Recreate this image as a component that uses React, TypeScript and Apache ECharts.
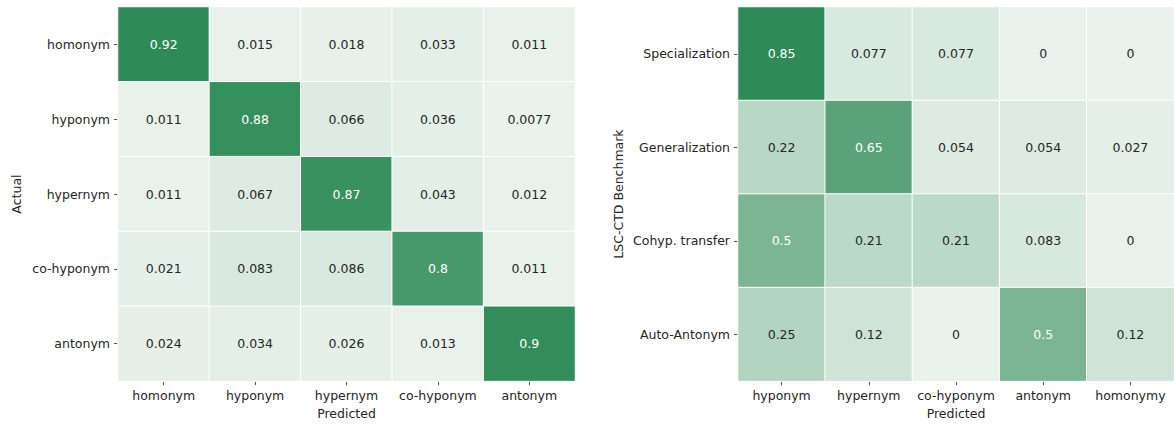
import React, { useEffect, useRef } from "react";
import * as echarts from "echarts";

const leftCats = ["homonym", "hyponym", "hypernym", "co-hyponym", "antonym"];
const leftValues = [
  [0.92, 0.015, 0.018, 0.033, 0.011],
  [0.011, 0.88, 0.066, 0.036, 0.0077],
  [0.011, 0.067, 0.87, 0.043, 0.012],
  [0.021, 0.083, 0.086, 0.8, 0.011],
  [0.024, 0.034, 0.026, 0.013, 0.9],
];

const rightXCats = ["hyponym", "hypernym", "co-hyponym", "antonym", "homonymy"];
const rightYCats = ["Specialization", "Generalization", "Cohyp. transfer", "Auto-Antonym"];
const rightValues = [
  [0.85, 0.077, 0.077, 0, 0],
  [0.22, 0.65, 0.054, 0.054, 0.027],
  [0.5, 0.21, 0.21, 0.083, 0],
  [0.25, 0.12, 0, 0.5, 0.12],
];

const FONT = "DejaVu Sans";
const TXT = "#262626";
const LIGHT = "#e9f2ec";
const DARK = "#2e8b57";

function buildData(values: number[][]) {
  const flat = values.flat();
  const mn = Math.min(...flat);
  const mx = Math.max(...flat);
  const data: any[] = [];
  values.forEach((row, yi) =>
    row.forEach((v, xi) => {
      const t = (v - mn) / (mx - mn);
      data.push({ value: [xi, yi, v], label: { color: t > 0.5 ? "#ffffff" : TXT } });
    })
  );
  return { data, mn, mx };
}

function xAxis(cats: string[], gridIndex: number) {
  return {
    type: "category",
    data: cats,
    gridIndex,
    name: "Predicted",
    nameLocation: "middle",
    nameGap: 24,
    nameTextStyle: { color: TXT, fontFamily: FONT, fontSize: 12.5 },
    axisLine: { show: false },
    axisTick: { show: true, alignWithLabel: true, interval: 0, length: 4, lineStyle: { color: TXT, width: 0.8 } },
    axisLabel: { color: TXT, fontFamily: FONT, fontSize: 12.5, margin: 8, interval: 0 },
    splitLine: { show: false },
  };
}

function yAxis(cats: string[], gridIndex: number, name: string, gap: number) {
  return {
    type: "category",
    data: cats,
    gridIndex,
    inverse: true,
    name,
    nameLocation: "middle",
    nameGap: gap,
    nameTextStyle: { color: TXT, fontFamily: FONT, fontSize: 12.5 },
    axisLine: { show: false },
    axisTick: { show: true, alignWithLabel: true, interval: 0, length: 4, lineStyle: { color: TXT, width: 0.8 } },
    axisLabel: { color: TXT, fontFamily: FONT, fontSize: 12.5, margin: 8, interval: 0 },
    splitLine: { show: false },
  };
}

export default function App() {
  const ref = useRef<HTMLDivElement>(null);
  useEffect(() => {
    if (!ref.current) return;
    const chart = echarts.init(ref.current, null, { renderer: "svg" });
    const L = buildData(leftValues);
    const R = buildData(rightValues);
    const labelCommon = {
      show: true,
      fontFamily: FONT,
      fontSize: 12.5,
      formatter: (p: any) => String(p.value[2]),
    };
    chart.setOption({
      animation: false,
      grid: [
        { left: 118, top: 7, width: 457, height: 380 },
        { left: 738, top: 7, width: 436, height: 378 },
      ],
      xAxis: [xAxis(leftCats, 0), xAxis(rightXCats, 1)],
      yAxis: [yAxis(leftCats, 0, "Actual", 95), yAxis(rightYCats, 1, "LSC-CTD Benchmark", 113)],
      visualMap: [
        { show: false, seriesIndex: 0, min: L.mn, max: L.mx, inRange: { color: [LIGHT, DARK] } },
        { show: false, seriesIndex: 1, min: R.mn, max: R.mx, inRange: { color: [LIGHT, DARK] } },
      ],
      series: [
        {
          type: "heatmap",
          xAxisIndex: 0,
          yAxisIndex: 0,
          data: L.data,
          label: labelCommon,
          itemStyle: { borderColor: "#ffffff", borderWidth: 1 },
          emphasis: { disabled: true },
        },
        {
          type: "heatmap",
          xAxisIndex: 1,
          yAxisIndex: 1,
          data: R.data,
          label: labelCommon,
          itemStyle: { borderColor: "#ffffff", borderWidth: 1 },
          emphasis: { disabled: true },
        },
      ],
    });
    return () => chart.dispose();
  }, []);
  return (
    <div
      ref={ref}
      style={{ position: "absolute", left: 0, top: 0, width: 1174, height: 425, background: "#fff" }}
    />
  );
}
